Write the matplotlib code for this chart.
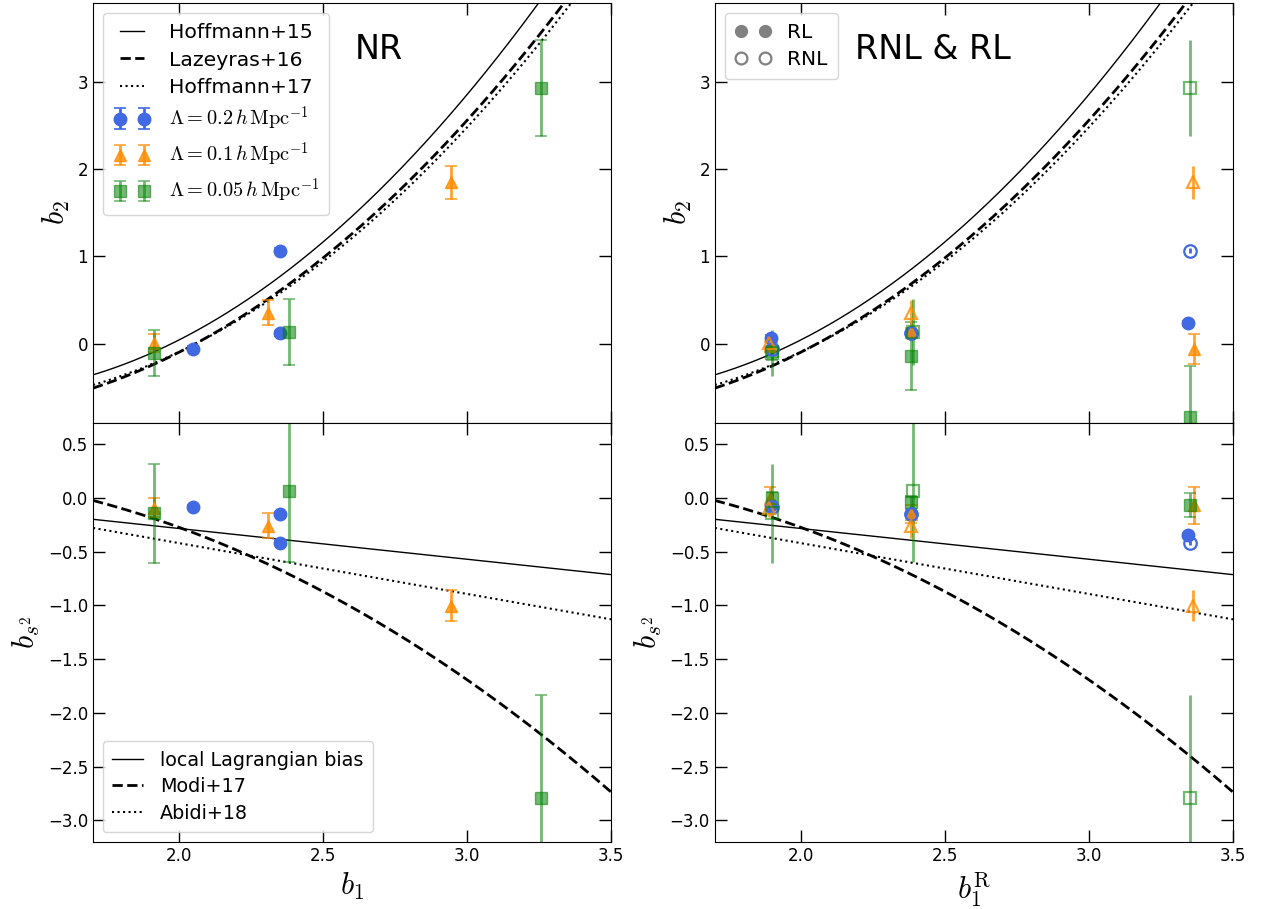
import numpy as np
import matplotlib.pyplot as plt
from matplotlib.lines import Line2D

plt.rcParams['mathtext.fontset'] = 'cm'
plt.rcParams['font.family'] = ['DejaVu Sans']

# fit coefficients (polynomial in b1, lowest order first)
hoffmann15 = [1.211, -2.842, 1.130]
lazeyras16 = [0.412, -2.143, 0.929, 0.008]
hoffmann17 = [0.77, -2.43, 1.0]
lagrangian = [2 / 7, -2 / 7]
modi17 = [-0.118, 0.813, -0.446]
abidi18 = [0.522, -0.472]

# NR measurements
nr_b1_02 = [2.046, 2.348, 2.348]
nr_b2_02 = [-0.057, 0.12, 1.066]
nr_b2_02_err = [0.03, 0.03, 0.03]
nr_bs2_02 = [-0.087, -0.149, -0.42]
nr_bs2_02_err = [0.02, 0.02, 0.02]

nr_b1_01 = [1.91, 2.306, 2.945]
nr_b2_01 = [0.01, 0.356, 1.849]
nr_b2_01_err = [0.1, 0.14, 0.19]
nr_bs2_01 = [-0.093, -0.26, -1.004]
nr_bs2_01_err = [0.09, 0.115, 0.145]

nr_b1_005 = [1.91, 2.38, 3.255]
nr_b2_005 = [-0.103, 0.138, 2.924]
nr_b2_005_err = [0.26, 0.38, 0.55]
nr_bs2_005 = [-0.143, 0.062, -2.79]
nr_bs2_005_err = [0.46, 0.66, 0.96]

# RL measurements (filled)
rl_b1_02 = [1.896, 2.38, 3.344]
rl_b2_02 = [0.07, 0.12, 0.236]
rl_b2_02_err = [0.03, 0.03, 0.03]
rl_bs2_02 = [-0.07, -0.15, -0.35]
rl_bs2_02_err = [0.02, 0.02, 0.02]

rl_b1_01 = [1.89, 2.38, 3.365]
rl_b2_01 = [-0.03, 0.13, -0.057]
rl_b2_01_err = [0.05, 0.05, 0.17]
rl_bs2_01 = [0.0, -0.15, -0.07]
rl_bs2_01_err = [0.1, 0.08, 0.17]

rl_b1_005 = [1.9, 2.38, 3.35]
rl_b2_005 = [-0.085, -0.14, -0.839]
rl_b2_005_err = [0.1, 0.39, 0.59]
rl_bs2_005 = [0.0, -0.04, -0.07]
rl_bs2_005_err = [0.05, 0.06, 0.11]

# RNL measurements (open): same b2, bs2 as NR, but with b1^R
rnl_b1_02 = [1.9, 2.38, 3.35]
rnl_b1_01 = [1.887, 2.38, 3.36]
rnl_b1_005 = [1.9, 2.39, 3.35]

blue = 'royalblue'
orange = 'darkorange'
green = 'green'
labels = [r'$\Lambda=0.2\,h\,\mathrm{Mpc}^{-1}$',
          r'$\Lambda=0.1\,h\,\mathrm{Mpc}^{-1}$',
          r'$\Lambda=0.05\,h\,\mathrm{Mpc}^{-1}$']
sizes = {'o': 9, '^': 8.5, 's': 8.5}

fig, axes = plt.subplots(2, 2, figsize=(12.61, 9.09), dpi=100)
fig.subplots_adjust(left=0.0738, right=0.9778, bottom=0.0737, top=0.9967,
                    wspace=0.2, hspace=0.0)

b1 = np.linspace(1.7, 3.5, 300)
poly = lambda c: sum(ci * b1 ** i for i, ci in enumerate(c))


def theory_top(ax):
    l1, = ax.plot(b1, poly(hoffmann15), 'k-', lw=1, label='Hoffmann+15')
    l2, = ax.plot(b1, poly(lazeyras16), 'k--', lw=2, label='Lazeyras+16')
    l3, = ax.plot(b1, poly(hoffmann17), 'k:', lw=1.5, label='Hoffmann+17')
    return [l1, l2, l3]


def theory_bottom(ax):
    l1, = ax.plot(b1, poly(lagrangian), 'k-', lw=1, label='local Lagrangian bias')
    l2, = ax.plot(b1, poly(modi17), 'k--', lw=2, label='Modi+17')
    l3, = ax.plot(b1, poly(abidi18), 'k:', lw=1.5, label='Abidi+18')
    return [l1, l2, l3]


def points(ax, x, y, err, marker, color, alpha, filled=True, caps=True, label=None):
    kw = dict(fmt=marker, color=color, alpha=alpha, ms=sizes[marker],
              capsize=4 if caps else 0, elinewidth=2, capthick=1.2, label=label)
    if not filled:
        kw.update(mfc='none', mec=color, mew=1.6)
    return ax.errorbar(x, y, yerr=err, **kw)


# NR panels
ax = axes[0, 0]
lines = theory_top(ax)
e1 = points(ax, nr_b1_02, nr_b2_02, nr_b2_02_err, 'o', blue, 1.0, label=labels[0])
e2 = points(ax, nr_b1_01, nr_b2_01, nr_b2_01_err, '^', orange, 0.8, label=labels[1])
e3 = points(ax, nr_b1_005, nr_b2_005, nr_b2_005_err, 's', green, 0.55, label=labels[2])
ax.legend(handles=lines + [e1, e2, e3], loc='upper left', numpoints=2,
          fontsize=14.7, handlelength=1.8, handletextpad=0.9,
          labelspacing=0.4, borderpad=0.5)
ax.text(0.505, 0.888, 'NR', fontsize=24, transform=ax.transAxes, va='center')

ax = axes[1, 0]
lines = theory_bottom(ax)
points(ax, nr_b1_02, nr_bs2_02, nr_bs2_02_err, 'o', blue, 1.0)
points(ax, nr_b1_01, nr_bs2_01, nr_bs2_01_err, '^', orange, 0.8)
points(ax, nr_b1_005, nr_bs2_005, nr_bs2_005_err, 's', green, 0.55)
ax.legend(handles=lines, loc='lower left', fontsize=13.8, handlelength=1.6,
          handletextpad=0.9, labelspacing=0.4, borderpad=0.5)

# RNL & RL panels
ax = axes[0, 1]
theory_top(ax)
points(ax, rl_b1_02, rl_b2_02, rl_b2_02_err, 'o', blue, 1.0)
points(ax, rl_b1_01, rl_b2_01, rl_b2_01_err, '^', orange, 0.8)
points(ax, rl_b1_005, rl_b2_005, rl_b2_005_err, 's', green, 0.55)
points(ax, rnl_b1_02, nr_b2_02, nr_b2_02_err, 'o', blue, 1.0, filled=False, caps=False)
points(ax, rnl_b1_01, nr_b2_01, nr_b2_01_err, '^', orange, 0.8, filled=False, caps=False)
points(ax, rnl_b1_005, nr_b2_005, nr_b2_005_err, 's', green, 0.55, filled=False, caps=False)
rl = Line2D([], [], marker='o', color='gray', ls='none', ms=8.5, label='RL')
rnl = Line2D([], [], marker='o', color='gray', mfc='none', mew=1.6, ls='none',
             ms=8.5, label='RNL')
ax.legend(handles=[rl, rnl], loc='upper left', numpoints=2, fontsize=14.5,
          handlelength=1.8, handletextpad=0.8, labelspacing=0.4, borderpad=0.5)
ax.text(0.27, 0.888, 'RNL & RL', fontsize=24, transform=ax.transAxes, va='center')

ax = axes[1, 1]
theory_bottom(ax)
points(ax, rl_b1_02, rl_bs2_02, rl_bs2_02_err, 'o', blue, 1.0)
points(ax, rl_b1_01, rl_bs2_01, rl_bs2_01_err, '^', orange, 0.8)
points(ax, rl_b1_005, rl_bs2_005, rl_bs2_005_err, 's', green, 0.55)
points(ax, rnl_b1_02, nr_bs2_02, nr_bs2_02_err, 'o', blue, 1.0, filled=False, caps=False)
points(ax, rnl_b1_01, nr_bs2_01, nr_bs2_01_err, '^', orange, 0.8, filled=False, caps=False)
points(ax, rnl_b1_005, nr_bs2_005, nr_bs2_005_err, 's', green, 0.55, filled=False, caps=False)

for col in range(2):
    top, bot = axes[0, col], axes[1, col]
    top.set_ylim(-0.9, 3.9)
    top.set_yticks([0, 1, 2, 3])
    top.set_ylabel(r'$b_2$', fontsize=22)
    bot.set_ylim(-3.2, 0.7)
    bot.set_yticks(np.arange(-3.0, 0.51, 0.5))
    bot.set_ylabel(r'$b_{s^2}$', fontsize=22)
    for ax in (top, bot):
        ax.set_xlim(1.7, 3.5)
        ax.set_xticks([2.0, 2.5, 3.0, 3.5])
        ax.tick_params(direction='in', top=True, right=True, length=8.5,
                       width=1, labelsize=12)
    top.tick_params(labelbottom=False)

axes[1, 0].set_xlabel(r'$b_1$', fontsize=22)
axes[1, 1].set_xlabel(r'$b_1^{\rm R}$', fontsize=22)

fig.savefig('out.png', dpi=100)
